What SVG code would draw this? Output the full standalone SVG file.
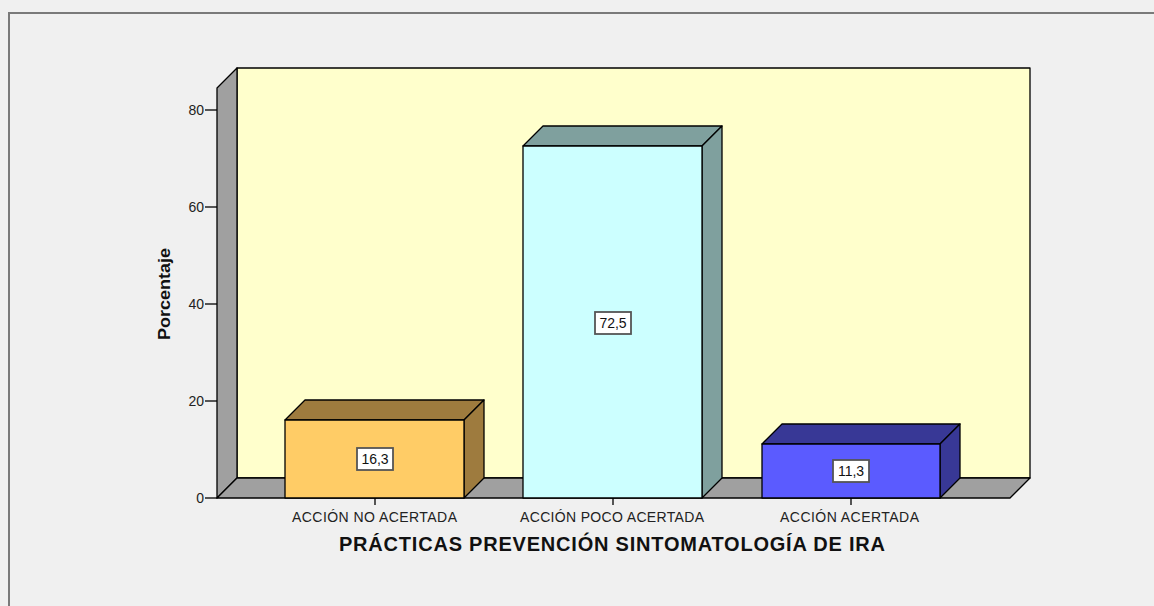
<svg xmlns="http://www.w3.org/2000/svg" width="1154" height="606" viewBox="0 0 1154 606">
<style>
.edge{stroke:#000;stroke-width:1.3;stroke-linejoin:round}
.ax{font-family:"Liberation Sans",Arial,sans-serif;font-size:14px;fill:#222}
.cat{font-family:"Liberation Sans",Arial,sans-serif;font-size:14px;fill:#222;text-anchor:middle}
.ttl{font-family:"Liberation Sans",Arial,sans-serif;font-size:20px;font-weight:bold;fill:#111;text-anchor:middle}
.val{font-family:"Liberation Sans",Arial,sans-serif;font-size:14px;fill:#111;text-anchor:middle}
.box{fill:#fff;stroke:#555;stroke-width:1.8}
.tick{stroke:#000;stroke-width:1.3}
</style>
<rect x="0" y="0" width="1154" height="606" fill="#f0f0f0"/>
<path d="M9,606 V13 H1154" fill="none" stroke="#7a7a7a" stroke-width="2"/>
<g id="chart-frame">
<polygon class="edge" points="237,68 1030,68 1030,478 237,478" fill="#ffffcc"/>
<polygon class="edge" points="217,88 237,68 237,478 217,498" fill="#a0a0a0"/>
<polygon class="edge" points="217,498 237,478 1030,478 1010,498" fill="#a0a0a0"/>
</g>
<g id="y-axis">
<line class="tick" x1="205" y1="498" x2="217" y2="498"/>
<line class="tick" x1="205" y1="401" x2="217" y2="401"/>
<line class="tick" x1="205" y1="304" x2="217" y2="304"/>
<line class="tick" x1="205" y1="207" x2="217" y2="207"/>
<line class="tick" x1="205" y1="110" x2="217" y2="110"/>
<text class="ax" x="204" y="503" text-anchor="end">0</text>
<text class="ax" x="204" y="406" text-anchor="end">20</text>
<text class="ax" x="204" y="309" text-anchor="end">40</text>
<text class="ax" x="204" y="212" text-anchor="end">60</text>
<text class="ax" x="204" y="115" text-anchor="end">80</text>
<text x="170" y="294" transform="rotate(-90 170 294)" text-anchor="middle" font-family="'Liberation Sans',Arial,sans-serif" font-size="16.5" font-weight="bold" fill="#111" textLength="92" lengthAdjust="spacingAndGlyphs">Porcentaje</text>
</g>
<g id="bar-no-acertada">
<polygon class="edge" points="285,420 305,400 484,400 464,420" fill="#9e7b3e"/>
<polygon class="edge" points="464,420 484,400 484,478 464,498" fill="#9e7b3e"/>
<rect class="edge" x="285" y="420" width="179" height="78" fill="#ffcc66"/>
<rect class="box" x="357" y="448" width="36" height="22"/>
<text class="val" x="375" y="464">16,3</text>
</g>
<g id="bar-poco-acertada">
<polygon class="edge" points="523,146 543,126 722,126 702,146" fill="#7fa09e"/>
<polygon class="edge" points="702,146 722,126 722,478 702,498" fill="#7fa09e"/>
<rect class="edge" x="523" y="146" width="179" height="352" fill="#ccffff"/>
<rect class="box" x="595" y="312" width="36" height="22"/>
<text class="val" x="613" y="328">72,5</text>
</g>
<g id="bar-acertada">
<polygon class="edge" points="762,444 782,424 960,424 940,444" fill="#383896"/>
<polygon class="edge" points="940,444 960,424 960,478 940,498" fill="#383896"/>
<rect class="edge" x="762" y="444" width="178" height="54" fill="#5b5bff"/>
<rect class="box" x="833" y="460" width="36" height="22"/>
<text class="val" x="851" y="476">11,3</text>
</g>
<g id="x-axis">
<line class="tick" x1="375" y1="498" x2="375" y2="505"/>
<line class="tick" x1="613" y1="498" x2="613" y2="505"/>
<line class="tick" x1="851" y1="498" x2="851" y2="505"/>
<text class="cat" x="374.5" y="522" textLength="165" lengthAdjust="spacing">ACCIÓN NO ACERTADA</text>
<text class="cat" x="612" y="522" textLength="184" lengthAdjust="spacing">ACCIÓN POCO ACERTADA</text>
<text class="cat" x="849.5" y="522" textLength="139" lengthAdjust="spacing">ACCIÓN ACERTADA</text>
<text class="ttl" x="612" y="551" textLength="546" lengthAdjust="spacing">PRÁCTICAS PREVENCIÓN SINTOMATOLOGÍA DE IRA</text>
</g>
</svg>
